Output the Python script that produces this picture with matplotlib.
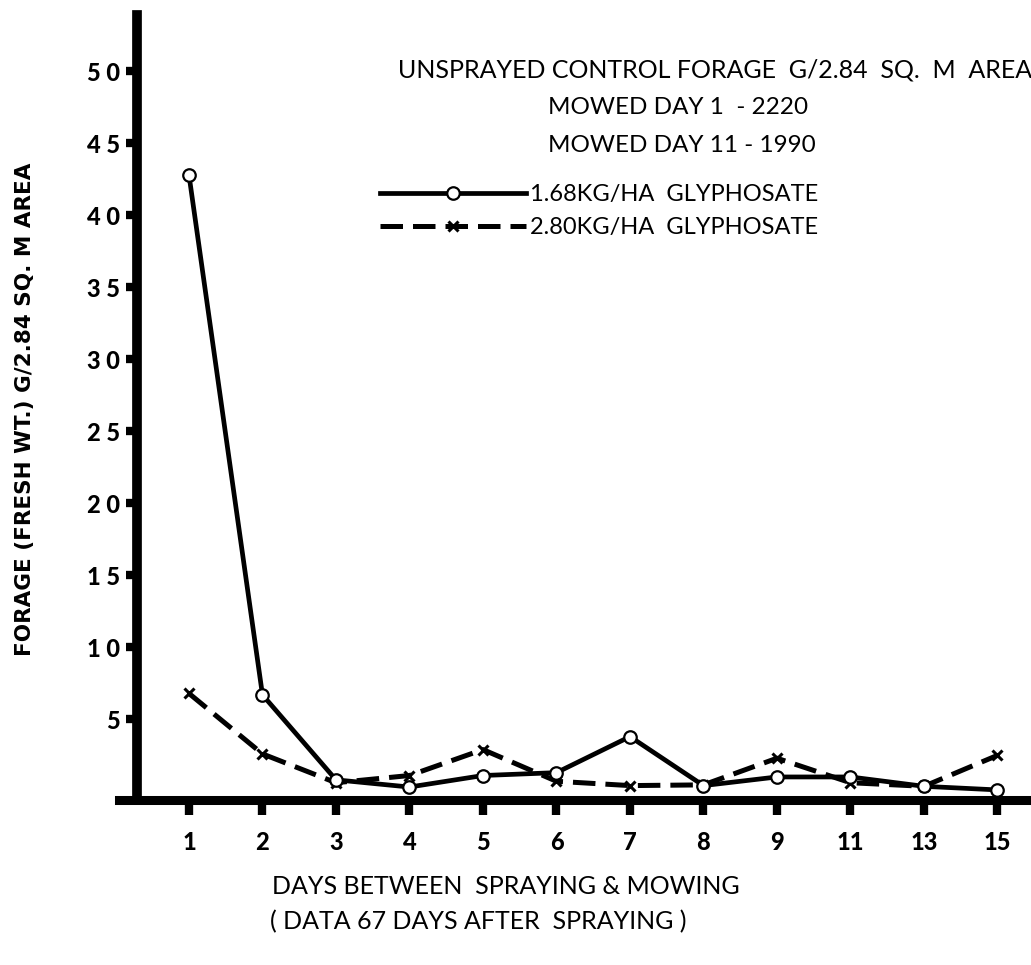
import matplotlib
matplotlib.use("Agg")
import matplotlib.pyplot as plt
import numpy as np

days = ["1", "2", "3", "4", "5", "6", "7", "8", "9", "11", "13", "15"]
gly_168 = [42.8, 6.7, 0.8, 0.3, 1.1, 1.3, 3.8, 0.4, 1.0, 1.0, 0.35, 0.1]
gly_280 = [6.8, 2.6, 0.6, 1.1, 2.9, 0.7, 0.4, 0.45, 2.3, 0.6, 0.35, 2.5]
yticks = [5, 10, 15, 20, 25, 30, 35, 40, 45, 50]
label_168 = "1.68KG/HA  GLYPHOSATE"
label_280 = "2.80KG/HA  GLYPHOSATE"
control_lines = ["UNSPRAYED CONTROL FORAGE  G/2.84  SQ.  M  AREA",
                 "MOWED DAY 1  - 2220",
                 "MOWED DAY 11 - 1990"]

plt.rcParams['font.family'] = ['Lato', 'DejaVu Sans']

W, H = 1031, 965
fig = plt.figure(figsize=(W / 100, H / 100), dpi=100)
left_px, right_px, top_px, bottom_px = 137, 1031, 15, 800
ax = fig.add_axes([left_px / W, 1 - bottom_px / H,
                   (right_px - left_px) / W, (bottom_px - top_px) / H])

x = np.arange(len(days))
ax.plot(x, gly_280, color='black', lw=3.6, linestyle=(0, (4.5, 2)),
        marker='x', markersize=7, mew=2.2, label=label_280, zorder=3)
ax.plot(x, gly_168, color='black', lw=3.4, linestyle='-',
        marker='o', markersize=9, mfc='white', mec='black', mew=1.6,
        label=label_168, zorder=4)

ax.set_xlim(-0.707, 11.456)
ax.set_ylim(-0.6, 53.9)

for s in ['top', 'right']:
    ax.spines[s].set_visible(False)
ax.spines['left'].set_linewidth(7)
ax.spines['bottom'].set_linewidth(6.5)
ax.spines['bottom'].set_bounds(-0.95, 11.456)
ax.spines['bottom'].set_zorder(2)
ax.spines['left'].set_zorder(2)

ax.set_xticks(x)
ax.set_xticklabels(days)
ax.set_yticks(yticks)
ax.set_yticklabels([" ".join(str(v)) if v >= 10 else str(v) for v in yticks])
ax.tick_params(axis='x', direction='out', length=11, width=6, pad=11,
               labelsize=17)
ax.tick_params(axis='y', direction='out', length=8, width=6, pad=4,
               labelsize=17)
for lab in ax.get_xticklabels() + ax.get_yticklabels():
    lab.set_fontweight('black')

ax.set_ylabel("FORAGE (FRESH WT.) G/2.84 SQ. M AREA", fontsize=15.5,
              fontweight='bold', family=['DejaVu Sans'])
ax.yaxis.set_label_coords(-0.114, 0.498)

# control text block
fig.text(398 / W, 1 - 70 / H, control_lines[0], fontsize=18, ha='left', va='center')
fig.text(548 / W, 1 - 108 / H, control_lines[1], fontsize=17.5, ha='left', va='center')
fig.text(548 / W, 1 - 145 / H, control_lines[2], fontsize=17.5, ha='left', va='center')

# legend
handles, labels = ax.get_legend_handles_labels()
leg = ax.legend(handles[::-1], labels[::-1], loc='upper left',
                bbox_to_anchor=(380 / W, 1 - 184 / H), bbox_transform=fig.transFigure,
                frameon=False, fontsize=17, handlelength=6.2, handletextpad=0.15,
                labelspacing=0.5, numpoints=1, borderpad=0, borderaxespad=0)

# x axis title
fig.text(272 / W, 1 - 887 / H, "DAYS BETWEEN  SPRAYING & MOWING", fontsize=18,
         ha='left', va='center')
fig.text(270 / W, 1 - 922 / H, "( DATA 67 DAYS AFTER  SPRAYING )", fontsize=18,
         ha='left', va='center')

fig.savefig("out.png", dpi=100)
